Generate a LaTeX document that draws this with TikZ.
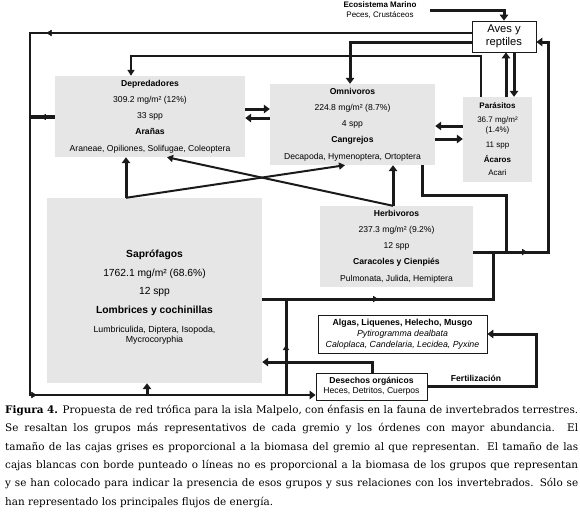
\documentclass[tikz,border=0pt]{standalone}
\usepackage{fontspec}
\setmainfont{Liberation Serif}
\setsansfont{Liberation Sans}
\newfontfamily\capfont{DejaVu Serif}
\usetikzlibrary{arrows.meta,decorations.markings}
\definecolor{grisclr}{HTML}{E6E6E6}
\definecolor{lineaclr}{HTML}{1A1A1A}

\begin{document}
\begin{tikzpicture}[
  x=1pt, y=-1pt,
  font=\sffamily,
  grupo/.style={
    rectangle, fill=grisclr, draw=none, inner sep=0pt, align=center,
    font=\sffamily\fontsize{8.6}{16.2}\selectfont,
  },
  caja/.style={
    rectangle, fill=white, draw=lineaclr, line width=0.8pt, inner sep=0pt, align=center,
  },
  flujo/.style={line width=3pt, draw=lineaclr, -{Triangle[length=6pt,width=8.5pt]}},
  linea/.style={line width=3pt, draw=lineaclr},
  fino/.style={line width=2pt, draw=lineaclr, -{Triangle[length=6pt,width=7pt]}},
  medio/.style={postaction={decorate}, decoration={markings,
      mark=at position #1 with {\arrow{Triangle[length=5pt,width=6pt]}}}},
]
\useasboundingbox (0,0) rectangle (580,512);

% Gremios (cajas grises)
\node[grupo, minimum width=190pt, minimum height=81pt] (dep) at (150,116.5)
  {\textbf{Depredadores}\\309.2 mg/m² (12\%)\\33 spp\\\textbf{Arañas}\\Araneae, Opiliones, Solifugae, Coleoptera};
\node[grupo, minimum width=165pt, minimum height=81pt] (omn) at (352.5,124.5)
  {\textbf{Omnivoros}\\224.8 mg/m² (8.7\%)\\4 spp\\\textbf{Cangrejos}\\Decapoda, Hymenoptera, Ortoptera};
\node[grupo, minimum width=69pt, minimum height=85pt, font=\sffamily\fontsize{8}{10}\selectfont] (par) at (497.5,139.5)
  {\textbf{Parásitos}\\[4pt]36.7 mg/m²\\(1.4\%)\\[5pt]11 spp\\[5pt]\textbf{Ácaros}\\[3pt]Acari};
\node[grupo, minimum width=153pt, minimum height=81pt] (her) at (396.5,246.5)
  {\textbf{Herbivoros}\\237.3 mg/m² (9.2\%)\\12 spp\\\textbf{Caracoles y Cienpiés}\\Pulmonata, Julida, Hemiptera};
\node[grupo, minimum width=215pt, minimum height=185pt] (sap) at (154.5,290.5) {};
\node[align=center, font=\sffamily\fontsize{10.3}{18.6}\selectfont] (saptxt) at (154.5,297)
  {\textbf{Saprófagos}\\1762.1 mg/m² (68.6\%)\\12 spp\\\textbf{Lombrices y cochinillas}\\
   {\fontsize{8.8}{10}\selectfont Lumbriculida, Diptera, Isopoda,}\\[-8.6pt]{\fontsize{8.8}{10}\selectfont Mycrocoryphia}};

% Grupos externos (cajas blancas)
\node[caja, minimum width=64pt, minimum height=31pt, font=\sffamily\fontsize{11.2}{13}\selectfont] (aves) at (504,36.5) {Aves y\\reptiles};
\node[caja, minimum width=169pt, minimum height=38pt, font=\sffamily\fontsize{8.8}{11}\selectfont] (alg) at (402.5,334)
  {\textbf{Algas, Liquenes, Helecho, Musgo}\\\textit{Pytirogramma dealbata}\\\textit{Caloplaca, Candelaria, Lecidea, Pyxine}};
\node[caja, minimum width=111pt, minimum height=27pt, font=\sffamily\fontsize{8.6}{10}\selectfont] (des) at (371.5,386.5)
  {\textbf{Desechos orgánicos}\\Heces, Detritos, Cuerpos};
\node[align=center, inner sep=0pt, font=\sffamily\fontsize{8}{10}\selectfont] (mar) at (380,10)
  {\textbf{Ecosistema Marino}\\Peces, Crustáceos};
\node[font=\sffamily\bfseries\fontsize{8.6}{10}\selectfont] (fert) at (476,378) {Fertilización};

% Puntos de union
\coordinate (izqA) at (30,33);
\coordinate (izqB) at (30,395);
\coordinate (izqC) at (30,117);
\coordinate (juntaA) at (506,252);
\coordinate (juntaB) at (493,252);
\coordinate (juntaC) at (286,395);
\coordinate (juntaD) at (286,299);
\coordinate (juntaE) at (147,395);

% Aves y reptiles
\draw[flujo] ([xshift=13pt]mar.east) -| (aves.north);
\draw[flujo, medio=425pt, medio=810pt, line width=2.6pt] (aves.west |- 0,33) -- (izqA) -- (izqB) -- (des.west |- 0,395);
\draw[flujo] (aves.west |- 0,42) -| (omn.north -| 350,0);
\draw[flujo] (par.north -| 506,0) -- (aves.south -| 506,0);
\draw[flujo] (aves.south -| 514,0) -- (par.north -| 514,0);
\draw[fino] (par.north -| 481,0) -- ++(0,-41) -| (dep.north -| 131,0);

% Entre gremios
\draw[flujo] (dep.east |- 0,109) -- (omn.west |- 0,109);
\draw[flujo] (omn.west |- 0,118) -- (dep.east |- 0,118);
\draw[flujo] (par.west |- 0,126) -- (omn.east |- 0,126);
\draw[flujo] (omn.east |- 0,139) -- (par.west |- 0,139);
\draw[linea, medio=14pt, line width=3.4pt] (dep.west |- 0,117) -- (izqC);

% Lineas cruzadas
\draw[flujo] (sap.north -| 126,0) -- (dep.south -| 126,0);
\draw[fino] (sap.north -| 126,0) -- (omn.south -| 345,0);
\draw[flujo] (her.north -| 393,0) -- (omn.south -| 393,0);
\draw[fino] (her.north -| 393,0) -- (dep.south -| 167,0);

% Hacia aves por la derecha
\draw[linea] (omn.south -| 422,0) -- ++(0,30) -| (juntaA);
\draw[flujo, medio=54pt] (her.east |- 0,252) -- ++(75,0) |- (aves.east |- 0,42);
\draw[linea, medio=116pt] (sap.east |- 0,299) -| (juntaB);

% Desechos
\draw[linea, medio=50pt] (juntaC) -- (juntaD);
\draw[flujo] (des.north -| 372,0) |- (sap.east |- 0,362);
\draw[flujo] (juntaE) -- (sap.south -| 147,0);
\draw[flujo] (des.east |- 0,386) -- ++(109,0) |- (alg.east);

% Pie de figura
\node[anchor=north west, text width=573pt, align=justify, inner sep=0pt,
  font=\capfont\fontsize{10.4}{18.3}\selectfont] (pie) at (5,405)
  {\textbf{Figura 4.} Propuesta de red trófica para la isla Malpelo, con énfasis en la fauna de invertebrados terrestres.\linebreak
   Se resaltan los grupos más representativos de cada gremio y los órdenes con mayor abundancia. El\linebreak
   tamaño de las cajas grises es proporcional a la biomasa del gremio al que representan. El tamaño de las\linebreak
   cajas blancas con borde punteado o líneas no es proporcional a la biomasa de los grupos que representan\linebreak
   y se han colocado para indicar la presencia de esos grupos y sus relaciones con los invertebrados. Sólo se\linebreak
   han representado los principales flujos de energía.};

\end{tikzpicture}
\end{document}
